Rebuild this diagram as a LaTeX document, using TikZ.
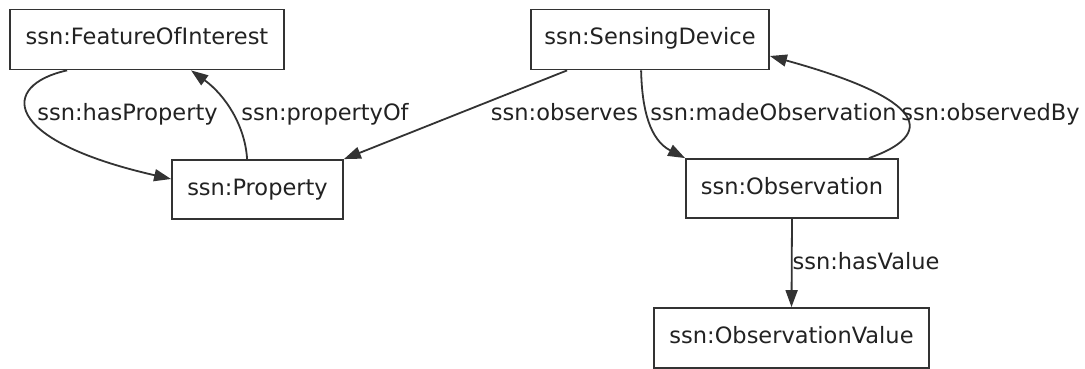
\documentclass[tikz,border=0pt]{standalone}
\usepackage{fontspec}
\setmainfont{DejaVu Sans}
\usetikzlibrary{arrows.meta}
\definecolor{ink}{HTML}{222222}
\definecolor{edgec}{HTML}{333333}
\begin{document}
\begin{tikzpicture}[x=1pt,y=-1pt,
  every node/.style={font=\fontsize{22.5}{27}\selectfont, text=ink},
  box/.style={draw=edgec, line width=1.8pt, rectangle, inner sep=0pt, text height=11pt, text depth=0pt},
  lbl/.style={anchor=base, inner sep=0pt},
  conn/.style={draw=edgec, line width=1.8pt, -{Triangle[length=17pt,width=12pt]}}]
\useasboundingbox[fill=white] (0,0) rectangle (1085,369);
% nodes
\node[box, minimum width=274pt, minimum height=60pt] (foi) at (147,39.5) {ssn:FeatureOfInterest};
\node[box, minimum width=171pt, minimum height=59pt] (prop) at (257.5,189.5) {ssn:Property};
\node[box, minimum width=238pt, minimum height=60pt] (sd) at (650,39.5) {ssn:SensingDevice};
\node[box, minimum width=212pt, minimum height=59pt] (obs) at (792,188.5) {ssn:Observation};
\node[box, minimum width=275pt, minimum height=60pt] (val) at (791.5,338) {ssn:ObservationValue};
% connectors
\draw[conn] ([xshift=58pt]foi.south west) .. controls (0,85) and (0,140) .. ([yshift=10.5pt]prop.west);
\draw[conn] ([xshift=76pt]prop.north west) .. controls (245,125) and (225,95) .. ([xshift=182pt]foi.south west);
\draw[conn] ([xshift=37pt]sd.south west) -- (prop.north east);
\draw[conn] ([xshift=111pt]sd.south west) .. controls (642,110) and (650,140) .. (obs.north west);
\draw[conn] ([xshift=-30pt]obs.north east) .. controls (935,135) and (930,100) .. ([yshift=-16.5pt]sd.east);
\draw[conn] (obs.south) -- (val.north);
% labels
\node[lbl] (l1) at (127.5,121) {ssn:hasProperty};
\node[lbl] (l2) at (325,121) {ssn:propertyOf};
\node[lbl] (l3) at (564.5,121) {ssn:observes};
\node[lbl] (l4) at (773.5,121) {ssn:madeObservation};
\node[lbl] (l5) at (990.5,121) {ssn:observedBy};
\node[lbl] (l6) at (866,269) {ssn:hasValue};
\end{tikzpicture}
\end{document}
